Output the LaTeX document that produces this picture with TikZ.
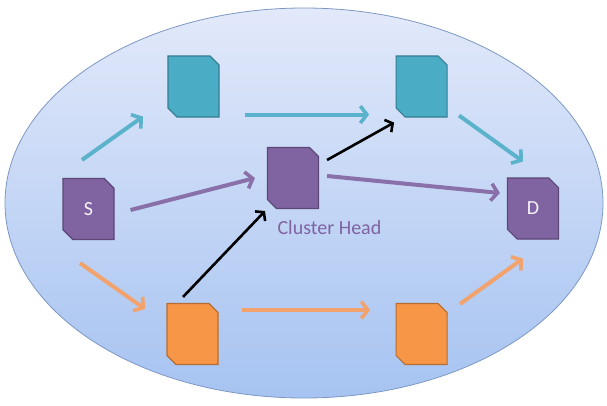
\documentclass[tikz,border=0pt]{standalone}
\usepackage{fontspec}
\setmainfont{Carlito}
\usepackage{tikz}
\usetikzlibrary{arrows.meta,positioning,calc,shapes.misc}
\definecolor{tealfill}{HTML}{4BACC6}
\definecolor{tealline}{HTML}{357D91}
\definecolor{purpfill}{HTML}{8064A2}
\definecolor{purpline}{HTML}{5C4776}
\definecolor{orgfill}{HTML}{F79646}
\definecolor{orgline}{HTML}{B66D31}
\definecolor{orgarrow}{HTML}{F2A36D}
\definecolor{cloudtop}{HTML}{E2E9FA}
\definecolor{cloudbot}{HTML}{A6C3F1}
\definecolor{cloudline}{HTML}{7D98C2}
\tikzset{
  cnode/.style={chamfered rectangle,chamfered rectangle corners={north east,south west},
    chamfered rectangle xsep=9pt,draw,line width=1.1pt,inner sep=0pt,
    minimum width=51pt,minimum height=61pt,font=\fontsize{20}{22}\selectfont,text=white!92!purpfill},
  tnode/.style={cnode,fill=tealfill,draw=tealline},
  pnode/.style={cnode,fill=purpfill,draw=purpline},
  onode/.style={cnode,fill=orgfill,draw=orgline},
  te/.style={-{Straight Barb[length=6.5pt,width=17pt,line width=3.6pt]},line width=4pt,tealfill!92!white},
  pe/.style={-{Straight Barb[length=6.5pt,width=17pt,line width=3.6pt]},line width=4pt,purpfill!92!white},
  oe/.style={-{Straight Barb[length=6.5pt,width=17pt,line width=3.6pt]},line width=4pt,orgarrow},
  ke/.style={-{Straight Barb[length=5.5pt,width=14pt,line width=2.6pt]},line width=2.6pt,black}
}
\begin{document}
\begin{tikzpicture}[x=1pt,y=-1pt]
\useasboundingbox (0,0) rectangle (607,405);
% cluster area
\shade[top color=cloudtop,bottom color=cloudbot,draw=cloudline,line width=0.8pt]
  (304,203) ellipse [x radius=299,y radius=195];
% nodes
\node[pnode] (S) at (88.5,209) {S};
\node[pnode] (CH) at (293,178) {\strut};
\node[pnode] (D) at (533,208.5) {D};
\node[tnode] (T1) at (193.5,86.5) {\strut};
\node[tnode, right=176pt of T1] (T2) {\strut};
\node[onode] (O1) at (192.5,334) {\strut};
\node[onode, right=177pt of O1] (O2) {\strut};
\node[anchor=base west,font=\fontsize{20}{22}\selectfont,text=purpfill]
  (CHL) at ([xshift=-19pt,yshift=-25pt]CH.south) {Cluster Head};
% teal route
\draw[te] ([xshift=-6.5pt,yshift=18pt]S.north) -- ([xshift=-50.5pt,yshift=1pt]T1.south);
\draw[te] ([xshift=51.5pt,yshift=3pt]T1.south) -- ([xshift=-52.5pt,yshift=3pt]T2.south);
\draw[te] ([xshift=37.5pt,yshift=2pt]T2.south) -- ([xshift=-10pt,yshift=16pt]D.north);
% purple route
\draw[pe] ([xshift=16pt,yshift=-1pt]S.east) -- ([xshift=-12pt]CH.west);
\draw[pe] ([xshift=8pt,yshift=2pt]CH.east) -- ([xshift=-7pt,yshift=15.5pt]D.west);
% orange route
\draw[oe] ([xshift=-8.5pt,yshift=-23pt]S.south) -- ([xshift=-47.5pt,yshift=-6pt]O1.north);
\draw[oe] ([xshift=49.5pt,yshift=-7pt]O1.north) -- ([xshift=-51.5pt,yshift=-7pt]O2.north);
\draw[oe] ([xshift=38.5pt,yshift=-1pt]O2.north) -- ([xshift=-10pt,yshift=-19pt]D.south);
% via cluster head
\draw[ke] ([xshift=-9.5pt,yshift=6pt]O1.north) -- ([xshift=-28pt,yshift=-2pt]CH.south);
\draw[ke] ([xshift=8pt,yshift=18pt]CH.east) -- ([xshift=-27.5pt,yshift=-5pt]T2.south);
\end{tikzpicture}
\end{document}
